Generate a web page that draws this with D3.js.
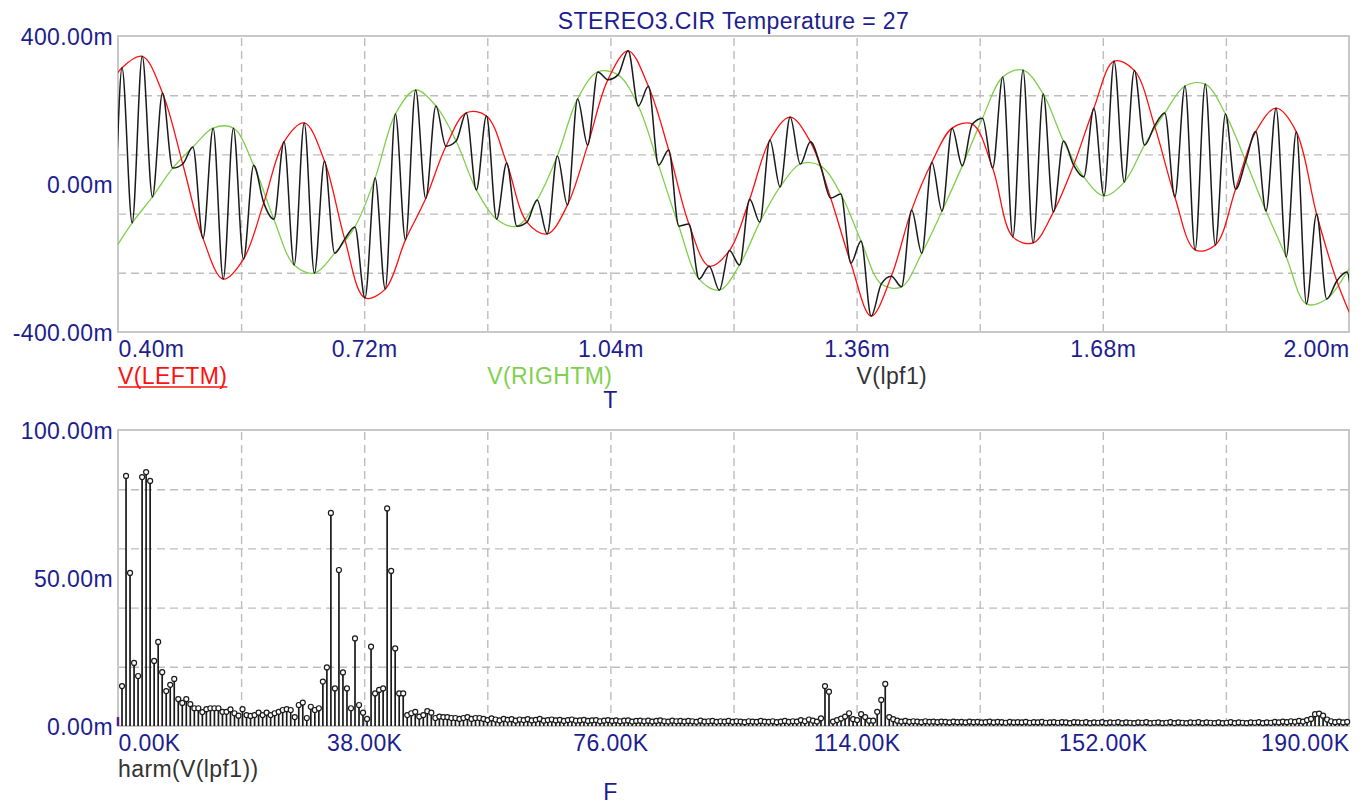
<!DOCTYPE html>
<html>
<head>
<meta charset="utf-8">
<script src="https://cdn.jsdelivr.net/npm/d3@7"></script>
<style>
  body { margin: 0; background: #fff; }
  svg { display: block; }
</style>
</head>
<body>
<svg id="chart" width="1363" height="805"></svg>
<script>
// ---------- data ----------
const TITLE = 'STEREO3.CIR Temperature = 27';

// transient: time in ms, volts in mV
const timeDomain = [0.40, 2.00];
const timeTicks = [0.40, 0.72, 1.04, 1.36, 1.68, 2.00];
const timeGrid = [0.56, 0.72, 0.88, 1.04, 1.20, 1.36, 1.52, 1.68, 1.84];
const voltDomain = [-400, 400];
const voltTicks = [-400, 0, 400];
const voltGrid = [-240, -80, 80, 240];

// one L and one R reading per 38 kHz subcarrier period (where V(lpf1) touches them)
const subPeriodMs = 1 / 38;
const leftT0 = 0.3789;
const rightT0 = 0.3921;
const leftMv = [
  227, 314, 345, 246, 54, -147, -257, -203, -51, 114, 165, 62, -149, -308, -284, -151,
  -39, 102, 192, 184, 57, -103, -135, -57, 105, 282, 360, 264, 92, -108, -222, -180,
  -41, 119, 181, 114, -38, -214, -357, -249, -70, 59, 151, 162, 43, -143, -159, -76,
  51, 205, 332, 307, 157, -35, -178, -165, -14, 142, 205, 141, -81, -262, -395
];
const rightMv = [
  -189, -105, -35, 43, 100, 151, 151, 51, -95, -219, -241, -187, -116, 16, 189, 254,
  211, 116, -16, -95, -114, -43, 76, 230, 303, 295, 211, 51, -114, -257, -287, -219,
  -103, -8, 54, 49, -27, -154, -270, -278, -187, -73, 49, 178, 289, 308, 243, 116,
  19, -32, 5, 105, 192, 265, 270, 189, 62, -73, -197, -324, -311, -238, -151
];
const waveNames = ['V(LEFTM)', 'V(RIGHTM)', 'V(lpf1)'];

// harmonics of V(lpf1): frequency in Hz, magnitude in mV
const freqDomain = [0, 190000];
const freqTicks = [0, 38000, 76000, 114000, 152000, 190000];
const freqGrid = [19000, 38000, 57000, 76000, 95000, 114000, 133000, 152000, 171000];
const harmDomain = [0, 100];
const harmTicks = [0, 50, 100];
const harmGrid = [20, 40, 60, 80];
const binHz = 620;
const harmMv = [
  3.0,
  13.5, 84.5, 51.7, 21.3, 16.9, 84.1, 85.8, 82.8, 22.0, 28.4,
  18.2, 11.8, 13.9, 15.9, 9.1, 7.8, 9.1, 7.4, 6.0, 6.0,
  4.7, 5.7, 6.0, 6.0, 6.0, 4.8, 4.8, 5.6, 4.3, 3.5,
  5.7, 3.7, 3.4, 3.7, 4.5, 3.7, 4.5, 3.7, 4.3, 4.8,
  5.4, 5.7, 5.4, 3.0, 7.1, 7.9, 2.7, 6.5, 5.4, 6.0,
  15.0, 19.8, 72.0, 12.7, 52.7, 18.1, 12.7, 6.0, 29.6, 7.1,
  4.5, 2.4, 26.8, 11.0, 12.2, 12.7, 73.5, 52.4, 26.2, 11.0,
  11.0, 3.7, 4.3, 4.8, 3.2, 3.7, 5.0, 4.5, 2.7, 3.2,
  3.0, 3.0, 2.7, 2.7, 2.4, 2.7, 3.0, 2.4, 2.7, 2.7,
  2.4, 2.0, 2.6, 2.2, 1.9, 2.4, 2.1, 2.3, 1.8, 2.2,
  2.0, 2.3, 1.9, 2.1, 2.4, 1.8, 2.0, 2.2, 1.9, 2.1,
  1.7, 2.0, 2.2, 1.8, 1.9, 2.1, 1.7, 1.9, 2.0, 1.6,
  1.8, 2.0, 1.7, 1.9, 1.6, 1.8, 1.9, 1.5, 1.7, 1.8,
  1.6, 1.8, 1.5, 1.7, 1.9, 1.6, 1.5, 1.8, 1.6, 1.7,
  1.5, 1.7, 1.6, 1.4, 1.8, 1.5, 1.6, 1.7, 1.4, 1.6,
  1.5, 1.7, 1.4, 1.6, 1.5, 1.3, 1.6, 1.5, 1.4, 1.7,
  1.5, 1.4, 1.6, 1.3, 1.5, 1.7, 1.4, 1.6, 1.5, 2.0,
  1.6, 2.2, 1.8, 1.5, 2.6, 13.5, 11.6, 1.5, 2.0, 2.5,
  3.2, 4.3, 2.3, 2.0, 4.0, 3.0, 1.8, 1.8, 4.8, 8.8,
  14.2, 3.0, 2.3, 1.8, 1.5, 1.7, 1.4, 1.6, 1.5, 1.3,
  1.6, 1.4, 1.5, 1.3, 1.5, 1.4, 1.2, 1.5, 1.3, 1.4,
  1.2, 1.5, 1.3, 1.4, 1.2, 1.3, 1.5, 1.2, 1.4, 1.3,
  1.1, 1.4, 1.2, 1.3, 1.2, 1.4, 1.1, 1.3, 1.2, 1.4,
  1.1, 1.2, 1.3, 1.1, 1.3, 1.2, 1.0, 1.3, 1.2, 1.1,
  1.3, 1.0, 1.2, 1.1, 1.3, 1.0, 1.2, 1.1, 1.3, 1.0,
  1.2, 1.1, 1.0, 1.2, 1.1, 1.3, 1.0, 1.1, 1.2, 1.0,
  1.1, 1.3, 1.0, 1.2, 1.1, 1.0, 1.2, 1.1, 1.3, 1.0,
  1.2, 1.1, 1.0, 1.2, 1.0, 1.1, 1.3, 1.0, 1.2, 1.1,
  1.0, 1.2, 1.1, 1.3, 1.0, 1.2, 1.1, 1.4, 1.2, 1.5,
  1.3, 1.6, 1.4, 1.7, 1.5, 2.0, 2.4, 4.0, 4.2, 3.5,
  2.2, 1.6, 1.3, 1.5, 1.2, 1.4
];

// ---------- layout ----------
const FONT = '"Liberation Sans", Arial, sans-serif';
const FS = 23;
const NAVY = '#1d1d8f';
const GRID = '#bdbdbd';
const FRAME = '#c8c8c8';
const RED = '#ff1010';
const GREEN = '#7fd04e';
const INK = '#1a1a1a';

const plotL = 118, plotR = 1349;
const waveTop = 36, waveBot = 332;
const harmTop = 430, harmBot = 726;

const svg = d3.select('#chart');

const xT = d3.scaleLinear(timeDomain, [plotL, plotR]);
const yV = d3.scaleLinear(voltDomain, [waveBot, waveTop]);
const xF = d3.scaleLinear(freqDomain, [plotL, plotR]);
const yH = d3.scaleLinear(harmDomain, [harmBot, harmTop]);

function styleText(sel) {
    return sel.attr('font-family', FONT).attr('font-size', FS).attr('letter-spacing', 0.4);
}

// grid, frame and axis labels for one panel
function drawPanel(x, y, xGrid, yGrid, xTicks, yTicks, xFmt, yFmt, top, bot) {
    const g = svg.append('g');

    g.append('g')
        .attr('transform', `translate(0,${bot})`)
        .call(d3.axisBottom(x).tickValues(xGrid).tickSize(-(bot - top)).tickFormat(''))
        .call(a => a.select('.domain').remove())
        .selectAll('line')
        .attr('stroke', GRID).attr('stroke-width', 1.4).attr('stroke-dasharray', '8,5');

    g.append('g')
        .attr('transform', `translate(${plotL},0)`)
        .call(d3.axisLeft(y).tickValues(yGrid).tickSize(-(plotR - plotL)).tickFormat(''))
        .call(a => a.select('.domain').remove())
        .selectAll('line')
        .attr('stroke', GRID).attr('stroke-width', 1.4).attr('stroke-dasharray', '8,5');

    g.append('rect')
        .attr('x', plotL).attr('y', top)
        .attr('width', plotR - plotL).attr('height', bot - top)
        .attr('fill', 'none').attr('stroke', FRAME).attr('stroke-width', 2);

    const xa = g.append('g')
        .attr('transform', `translate(0,${bot})`)
        .call(d3.axisBottom(x).tickValues(xTicks).tickSize(0).tickPadding(9).tickFormat(xFmt));
    xa.select('.domain').remove();
    styleText(xa.selectAll('text'))
        .attr('fill', NAVY)
        .attr('text-anchor', (d, i) => i === 0 ? 'start' : (i === xTicks.length - 1 ? 'end' : 'middle'));

    const ya = g.append('g')
        .attr('transform', `translate(${plotL},0)`)
        .call(d3.axisLeft(y).tickValues(yTicks).tickSize(0).tickPadding(5).tickFormat(yFmt));
    ya.select('.domain').remove();
    styleText(ya.selectAll('text')).attr('fill', NAVY).attr('dy', '0.36em');
}

drawPanel(xT, yV, timeGrid, voltGrid, timeTicks, voltTicks,
    d => d.toFixed(2) + 'm', d => d.toFixed(2) + 'm', waveTop, waveBot);
drawPanel(xF, yH, freqGrid, harmGrid, freqTicks, harmTicks,
    d => (d / 1000).toFixed(2) + 'K', d => d.toFixed(2) + 'm', harmTop, harmBot);

// ---------- transient traces ----------
svg.append('clipPath').attr('id', 'waveClip')
    .append('rect')
    .attr('x', plotL).attr('y', waveTop - 4)
    .attr('width', plotR - plotL).attr('height', waveBot - waveTop + 8);

const leftPts = leftMv.map((v, i) => ({ t: leftT0 + i * subPeriodMs, v }));
const rightPts = rightMv.map((v, i) => ({ t: rightT0 + i * subPeriodMs, v }));
const lpfPts = leftPts.concat(rightPts).sort((a, b) => a.t - b.t);

const traces = svg.append('g').attr('clip-path', 'url(#waveClip)');
const smooth = d3.line().x(d => xT(d.t)).y(d => yV(d.v)).curve(d3.curveCatmullRom.alpha(0.5));
const switched = d3.line().x(d => xT(d.t)).y(d => yV(d.v)).curve(d3.curveMonotoneX);

traces.append('path').attr('d', smooth(rightPts))
    .attr('fill', 'none').attr('stroke', GREEN).attr('stroke-width', 1.3);
traces.append('path').attr('d', smooth(leftPts))
    .attr('fill', 'none').attr('stroke', RED).attr('stroke-width', 1.3);
traces.append('path').attr('d', switched(lpfPts))
    .attr('fill', 'none').attr('stroke', INK).attr('stroke-width', 1.5);

// ---------- harmonic stems ----------
const bins = harmMv.map((v, k) => ({ f: k * binHz, v, k }));
const stems = svg.append('g');
stems.selectAll('line')
    .data(bins)
    .join('line')
    .attr('x1', d => xF(d.f)).attr('x2', d => xF(d.f))
    .attr('y1', yH(0)).attr('y2', d => yH(d.v))
    .attr('stroke', d => d.k === 0 ? '#5a1a8a' : INK)
    .attr('stroke-width', d => d.k === 0 ? 2.5 : 1.7);
stems.selectAll('circle')
    .data(bins.filter(d => d.k > 0))
    .join('circle')
    .attr('cx', d => xF(d.f)).attr('cy', d => yH(d.v))
    .attr('r', 2.5)
    .attr('fill', '#fff').attr('stroke', INK).attr('stroke-width', 1.2);

// ---------- titles and legends ----------
styleText(svg.append('text'))
    .attr('x', (plotL + plotR) / 2).attr('y', 29)
    .attr('text-anchor', 'middle').attr('fill', NAVY)
    .text(TITLE);

const legendAt = [0.40, 0.88, 1.36];
const legendColor = [RED, GREEN, '#333'];
waveNames.forEach((name, i) => {
    const t = styleText(svg.append('text'))
        .attr('x', xT(legendAt[i])).attr('y', 384)
        .attr('fill', legendColor[i])
        .text(name);
    if (i === 0) {
        const w = t.node().getComputedTextLength();
        svg.append('line')
            .attr('x1', xT(legendAt[i])).attr('x2', xT(legendAt[i]) + w)
            .attr('y1', 387).attr('y2', 387)
            .attr('stroke', RED).attr('stroke-width', 1.5);
    }
});

styleText(svg.append('text'))
    .attr('x', xT(1.04)).attr('y', 408)
    .attr('text-anchor', 'middle').attr('fill', NAVY)
    .text('T');

styleText(svg.append('text'))
    .attr('x', plotL).attr('y', 777)
    .attr('fill', '#333')
    .text('harm(V(lpf1))');

styleText(svg.append('text'))
    .attr('x', xF(76000)).attr('y', 800)
    .attr('text-anchor', 'middle').attr('fill', NAVY)
    .text('F');
</script>
</body>
</html>
